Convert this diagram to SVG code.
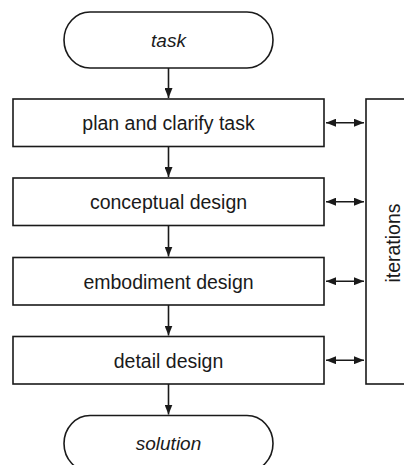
<svg xmlns="http://www.w3.org/2000/svg" width="404" height="465" viewBox="0 0 404 465">
  <style>
    .shape { fill: #ffffff; stroke: #1a1a1a; stroke-width: 1.6; }
    .label { font-family: "Liberation Sans", Arial, sans-serif; font-size: 19.5px; fill: #1a1a1a; text-anchor: middle; }
    .term { font-style: italic; font-size: 19px; }
    .link { fill: none; stroke: #1a1a1a; stroke-width: 1.6; }
  </style>
  <defs>
    <marker id="head" viewBox="0 0 10 8" refX="10" refY="4" markerWidth="10" markerHeight="8" markerUnits="userSpaceOnUse" orient="auto-start-reverse">
      <path d="M0,0 L10,4 L0,8 Z" fill="#1a1a1a"/>
    </marker>
  </defs>

  <rect width="404" height="465" fill="#ffffff"/>

  <g id="task">
    <rect class="shape" x="64" y="12" width="209" height="56" rx="26" ry="28"/>
    <text class="label term" x="168.5" y="46.5">task</text>
  </g>

  <g id="plan">
    <rect class="shape" x="13" y="99" width="311" height="47.5"/>
    <text class="label" x="168.5" y="130">plan and clarify task</text>
  </g>

  <g id="conceptual">
    <rect class="shape" x="13" y="178" width="311" height="47.5"/>
    <text class="label" x="168.5" y="209">conceptual design</text>
  </g>

  <g id="embodiment">
    <rect class="shape" x="13" y="257.5" width="311" height="47.5"/>
    <text class="label" x="168.5" y="288.5">embodiment design</text>
  </g>

  <g id="detail">
    <rect class="shape" x="13" y="336.5" width="311" height="47.5"/>
    <text class="label" x="168.5" y="367.5">detail design</text>
  </g>

  <g id="solution">
    <rect class="shape" x="64" y="415.5" width="209" height="56" rx="26" ry="28"/>
    <text class="label term" x="168.5" y="450">solution</text>
  </g>

  <g id="iterations">
    <rect class="shape" x="366" y="99" width="60" height="285"/>
    <text class="label" transform="translate(400 243) rotate(-90)" x="0" y="0">iterations</text>
  </g>

  <g id="connectors">
    <!-- main flow -->
    <line class="link" x1="168.5" y1="68" x2="168.5" y2="98" marker-end="url(#head)"/>
    <line class="link" x1="168.5" y1="146.5" x2="168.5" y2="177" marker-end="url(#head)"/>
    <line class="link" x1="168.5" y1="225.5" x2="168.5" y2="256.5" marker-end="url(#head)"/>
    <line class="link" x1="168.5" y1="305" x2="168.5" y2="335.5" marker-end="url(#head)"/>
    <line class="link" x1="168.5" y1="384" x2="168.5" y2="414.5" marker-end="url(#head)"/>
    <!-- feedback to iterations -->
    <line class="link" x1="326" y1="122.7" x2="364" y2="122.7" marker-start="url(#head)" marker-end="url(#head)"/>
    <line class="link" x1="326" y1="201.7" x2="364" y2="201.7" marker-start="url(#head)" marker-end="url(#head)"/>
    <line class="link" x1="326" y1="281.2" x2="364" y2="281.2" marker-start="url(#head)" marker-end="url(#head)"/>
    <line class="link" x1="326" y1="360.2" x2="364" y2="360.2" marker-start="url(#head)" marker-end="url(#head)"/>
  </g>
</svg>
